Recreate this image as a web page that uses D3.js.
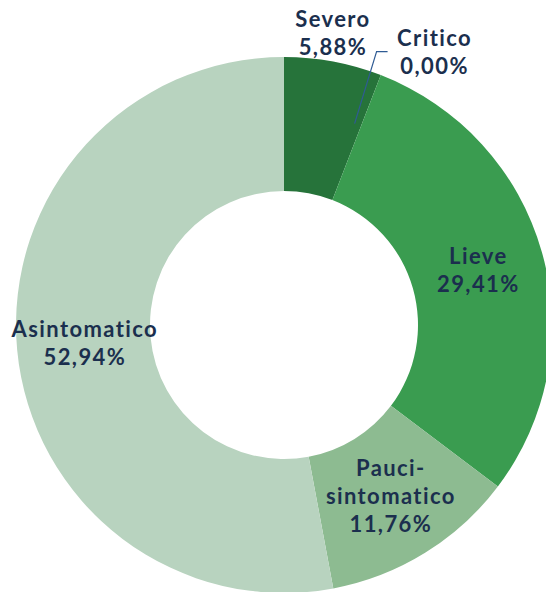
<!DOCTYPE html>
<html>
<head>
<meta charset="utf-8">
<script src="https://cdn.jsdelivr.net/npm/d3@7"></script>
<style>
  body { margin: 0; background: #fff; }
  svg text { font-family: Lato, "Open Sans", sans-serif; font-weight: 700; fill: #1b2f4e; letter-spacing: 1.4px; }
</style>
</head>
<body>
<div id="chart-div"></div>
<script>
// data
const categories = ["Severo", "Critico", "Lieve", "Pauci-sintomatico", "Asintomatico"]
const labelLines = [["Severo"], ["Critico"], ["Lieve"], ["Pauci-", "sintomatico"], ["Asintomatico"]]
const values = [5.88, 0.00, 29.41, 11.76, 52.94]
const colors = ["#26733a", "#2f9a4c", "#3a9c50", "#8dbb91", "#b8d3bf"]

// labels moved outside for the small slices (offset from centroid)
const labelShift = [[11, -94], [77, -85], [0, 0], [0, 0], [0, 0]]

const WIDTH = 546
const HEIGHT = 592
const CX = 284
const CY = 325
const R_OUT = 268
const R_IN = 134
const LINE_H = 28

const svg = d3.select("#chart-div").append("svg")
    .attr("width", WIDTH)
    .attr("height", HEIGHT)

const g = svg.append("g").attr("transform", `translate(${CX},${CY})`)

const data = categories.map((c, i) => ({ name: c, value: values[i], lines: labelLines[i], i: i }))

const pie = d3.pie().value(d => d.value).sort(null)
const arc = d3.arc().innerRadius(R_IN).outerRadius(R_OUT)
const arcs = pie(data)

g.selectAll("path")
    .data(arcs.filter(d => d.data.value > 0))
    .enter()
    .append("path")
    .attr("d", arc)
    .attr("fill", d => colors[d.data.i])

const fmt = v => v.toFixed(2).replace(".", ",") + "%"

// leader line for the empty slice (Critico)
const crit = arcs[1]
const cc = arc.centroid(crit)
const cl = [cc[0] + labelShift[1][0], cc[1] + labelShift[1][1]]
g.append("path")
    .attr("d", d3.line()([[cc[0] - 2, cc[1] - 14], [cl[0] - 57, cl[1] - 1], [cl[0] - 46, cl[1] - 1]]))
    .attr("fill", "none")
    .attr("stroke", "#2f5b94")
    .attr("stroke-width", 1.2)

const labels = g.selectAll(".lbl")
    .data(arcs)
    .enter()
    .append("text")
    .attr("class", "lbl")
    .attr("text-anchor", "middle")
    .attr("font-size", 22)
    .attr("transform", d => {
        const c = arc.centroid(d)
        const s = labelShift[d.data.i]
        return `translate(${c[0] + s[0] + 1},${c[1] + s[1]})`
    })

labels.each(function (d) {
    const lines = d.data.lines.concat([fmt(d.data.value)])
    const t = d3.select(this)
    const y0 = -(lines.length - 1) * LINE_H / 2
    lines.forEach((l, k) => {
        t.append("tspan")
            .attr("x", 0)
            .attr("y", y0 + k * LINE_H)
            .attr("dy", "0.35em")
            .text(l)
    })
})
</script>
</body>
</html>
